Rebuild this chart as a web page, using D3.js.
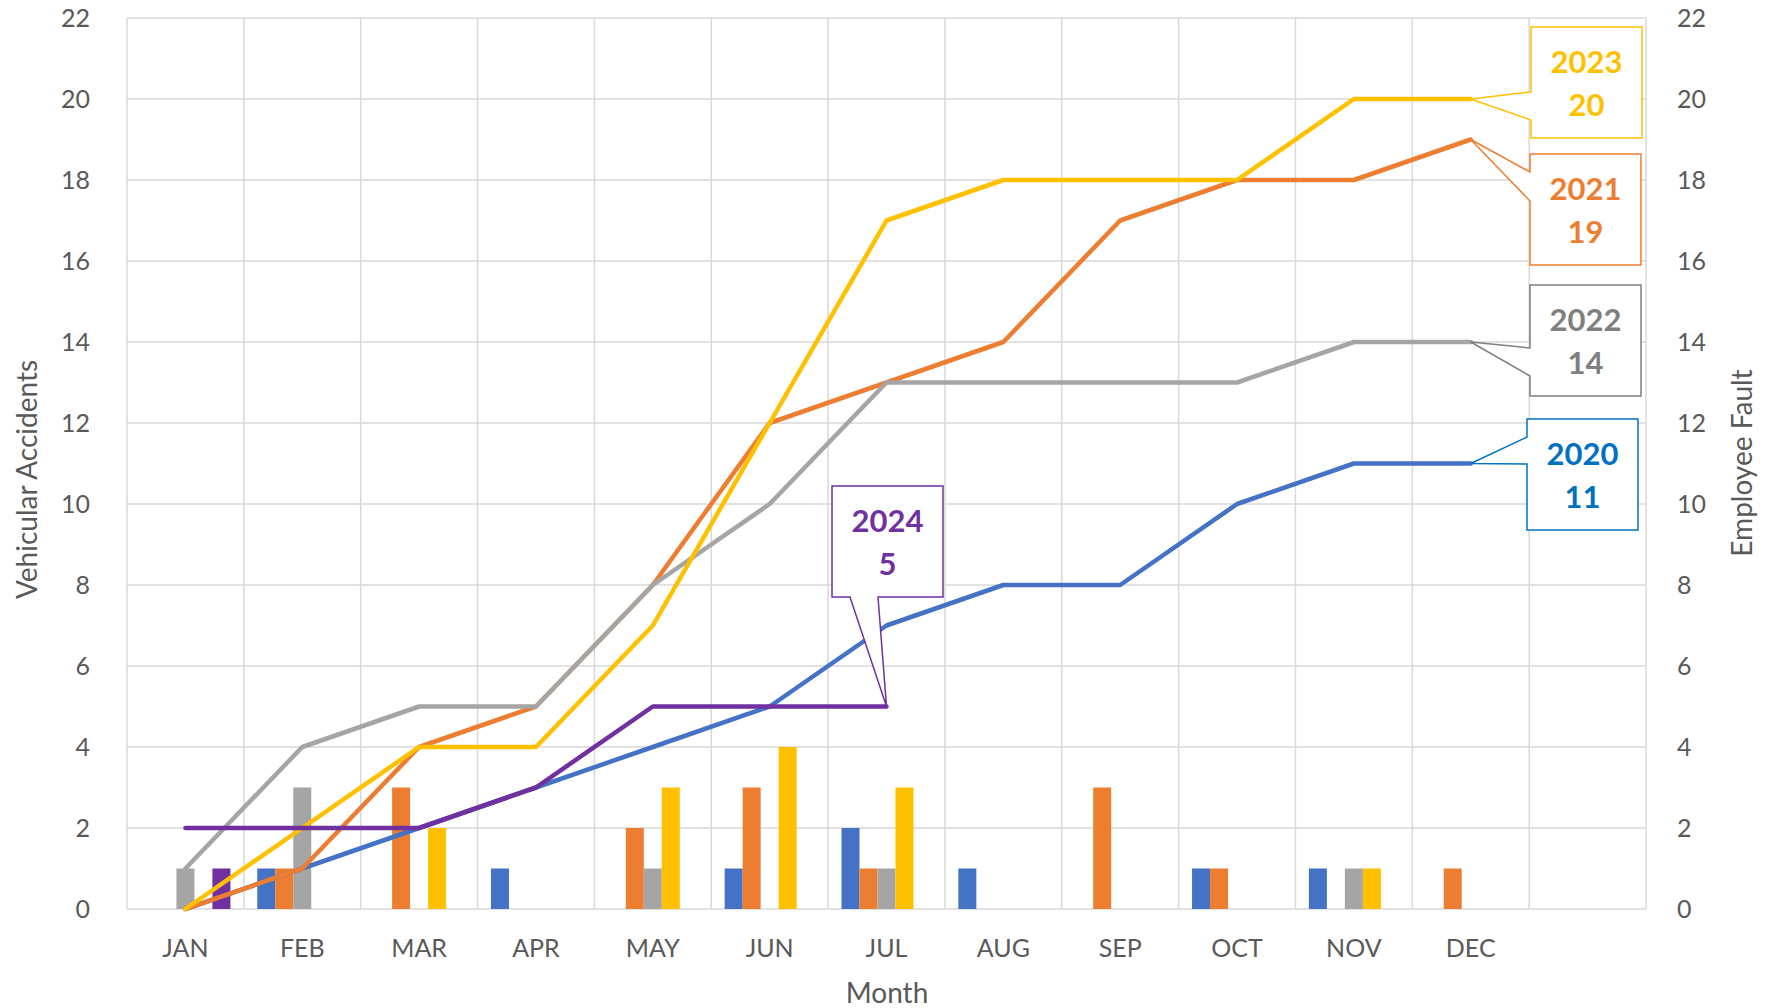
<!DOCTYPE html>
<html>
<head>
<meta charset="utf-8">
<script src="https://cdn.jsdelivr.net/npm/d3@7"></script>
<style>
  html, body { margin: 0; padding: 0; background: #fff; }
  svg { display: block; font-family: Lato, "Open Sans", sans-serif; }
</style>
</head>
<body>
<svg id="chart" width="1768" height="1008"></svg>
<script>
// ---------- DATA ----------
const categories = ["JAN","FEB","MAR","APR","MAY","JUN","JUL","AUG","SEP","OCT","NOV","DEC",""];
const years = ["2020","2021","2022","2023","2024"];
const yTicks = [0,2,4,6,8,10,12,14,16,18,20,22];

// Employee fault (bars, right axis) per month
const fault2020 = [0,1,0,1,0,1,2,1,0,1,1,0];
const fault2021 = [0,1,3,0,2,3,1,0,3,1,0,1];
const fault2022 = [1,3,0,0,1,0,1,0,0,0,1,0];
const fault2023 = [0,0,2,0,3,4,3,0,0,0,1,0];
const fault2024 = [1,0,0,0,0,0,0];

// Vehicular accidents (cumulative lines, left axis)
const acc2020 = [0,1,2,3,4,5,7,8,8,10,11,11];
const acc2021 = [0,1,4,5,8,12,13,14,17,18,18,19];
const acc2022 = [1,4,5,5,8,10,13,13,13,13,14,14];
const acc2023 = [0,2,4,4,7,12,17,18,18,18,20,20];
const acc2024 = [2,2,2,3,5,5,5];

// ---------- LAYOUT / STYLE ----------
const colors = {"2020":"#4472C4","2021":"#ED7D31","2022":"#A5A5A5","2023":"#FFC000","2024":"#7030A0"};
const labelColors = {"2020":"#0070C0","2021":"#ED7D31","2022":"#7F7F7F","2023":"#FFC000","2024":"#7030A0"};
const faults = {"2020":fault2020,"2021":fault2021,"2022":fault2022,"2023":fault2023,"2024":fault2024};
const accs = {"2020":acc2020,"2021":acc2021,"2022":acc2022,"2023":acc2023,"2024":acc2024};

const M = {left:127, right:1646, top:18, bottom:909};
const svg = d3.select("#chart");

const x = d3.scaleBand().domain(categories).range([M.left, M.right]).paddingInner(0).paddingOuter(0);
const y = d3.scaleLinear().domain([0,22]).range([M.bottom, M.top]);
const yR = d3.scaleLinear().domain([0,22]).range([M.bottom, M.top]);
const groupW = 90;
const x1 = d3.scaleBand().domain(years).range([0, groupW]).padding(0);
const cx = m => x(m) + x.bandwidth()/2;

const grid = "#D9D9D9";
const textCol = "#595959";

// gridlines
const g = svg.append("g");
g.selectAll("line.h").data(yTicks).join("line")
  .attr("x1", M.left).attr("x2", M.right)
  .attr("y1", d => y(d)).attr("y2", d => y(d))
  .attr("stroke", grid).attr("stroke-width", 1.5);
const vb = categories.map(c => x(c)).concat([M.right]);
g.selectAll("line.v").data(vb).join("line")
  .attr("x1", d => d).attr("x2", d => d)
  .attr("y1", M.top).attr("y2", M.bottom)
  .attr("stroke", grid).attr("stroke-width", 1.5);

// left axis
const leftAxis = svg.append("g").attr("transform", `translate(${M.left},0)`)
  .call(d3.axisLeft(y).tickValues(yTicks).tickSize(0).tickPadding(37));
leftAxis.select(".domain").remove();
leftAxis.selectAll("text").attr("fill", textCol).style("font-size","25px").style("font-family","Lato");

// right axis
const rightAxis = svg.append("g").attr("transform", `translate(${M.right},0)`)
  .call(d3.axisRight(yR).tickValues(yTicks).tickSize(0).tickPadding(31));
rightAxis.select(".domain").remove();
rightAxis.selectAll("text").attr("fill", textCol).style("font-size","25px").style("font-family","Lato");

// bottom axis
const bottomAxis = svg.append("g").attr("transform", `translate(0,${M.bottom})`)
  .call(d3.axisBottom(x).tickSize(0).tickPadding(30));
bottomAxis.select(".domain").remove();
bottomAxis.selectAll("text").attr("fill", textCol).style("font-size","25px").style("font-family","Lato");

// axis titles
svg.append("text").attr("transform", `translate(37,${(M.top+M.bottom)/2 + 16}) rotate(-90)`)
  .attr("text-anchor","middle").attr("fill", textCol).style("font-size","28px").text("Vehicular Accidents");
svg.append("text").attr("transform", `translate(1752,463) rotate(-90)`)
  .attr("text-anchor","middle").attr("fill", textCol).style("font-size","28px").text("Employee Fault");
svg.append("text").attr("x", 887).attr("y", 1003)
  .attr("text-anchor","middle").attr("fill", textCol).style("font-size","28px").text("Month");

// bars
years.forEach(yr => {
  const vals = faults[yr].map((v,i) => ({m: categories[i], v}));
  svg.append("g").selectAll("rect").data(vals.filter(d => d.v > 0)).join("rect")
    .attr("x", d => cx(d.m) - groupW/2 + x1(yr))
    .attr("width", x1.bandwidth())
    .attr("y", d => yR(d.v))
    .attr("height", d => yR(0) - yR(d.v))
    .attr("fill", colors[yr]);
});

// lines
const line = d3.line().x(d => cx(d.m)).y(d => y(d.v));
years.forEach(yr => {
  const vals = accs[yr].map((v,i) => ({m: categories[i], v}));
  svg.append("path").datum(vals)
    .attr("d", line).attr("fill","none")
    .attr("stroke", colors[yr]).attr("stroke-width", 4.5)
    .attr("stroke-linejoin","round").attr("stroke-linecap","round");
});

// callouts
const boxW = 111, boxH = 111;
const callouts = [
  {yr:"2023", bx:1531, by:27,  side:"left", p1:65, p2:93},
  {yr:"2021", bx:1530, by:154, side:"left", p1:18, p2:47},
  {yr:"2022", bx:1530, by:285, side:"left", p1:63, p2:91},
  {yr:"2020", bx:1527, by:419, side:"left", p1:18, p2:45},
  {yr:"2024", bx:832,  by:486, side:"bottom", p1:18, p2:46}
];
callouts.forEach(c => {
  const vals = accs[c.yr];
  const last = vals.length - 1;
  const tx = cx(categories[last]), ty = y(vals[last]);
  const x0 = c.bx, y0 = c.by, x2 = c.bx + boxW, y2 = c.by + boxH;
  let pts;
  if (c.side === "left") {
    pts = [[x0,y0],[x2,y0],[x2,y2],[x0,y2],[x0,y0+c.p2],[tx,ty],[x0,y0+c.p1]];
  } else {
    pts = [[x0,y0],[x2,y0],[x2,y2],[x0+c.p2,y2],[tx,ty],[x0+c.p1,y2],[x0,y2]];
  }
  svg.append("path").attr("d", "M" + pts.map(p => p.join(",")).join("L") + "Z")
    .attr("fill","#fff").attr("stroke", labelColors[c.yr]).attr("stroke-width", 1.5);
  const t = svg.append("text").attr("text-anchor","middle").attr("fill", labelColors[c.yr])
    .style("font-size","31px").style("font-weight","bold");
  t.append("tspan").attr("x", x0 + boxW/2).attr("y", y0 + 34).attr("dominant-baseline","central").text(c.yr);
  t.append("tspan").attr("x", x0 + boxW/2).attr("y", y0 + 77).attr("dominant-baseline","central").text(vals[last]);
});
</script>
</body>
</html>
